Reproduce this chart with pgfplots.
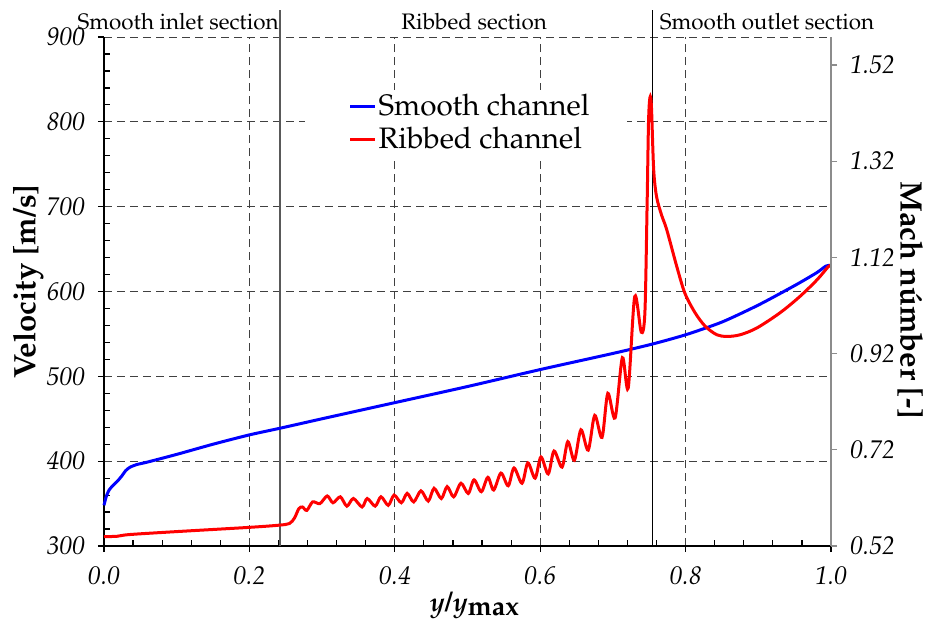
\documentclass[border=0pt]{standalone}
\usepackage[T1]{fontenc}
\usepackage{mathpazo}
\usepackage{pgfplots}
\pgfplotsset{compat=1.18}

\definecolor{gridgray}{gray}{0.25}
\definecolor{axisgray}{gray}{0.55}

\newcommand{\tickfont}{\fontsize{12.8}{13}\selectfont\itshape}

\begin{document}
\begin{tikzpicture}
\begin{axis}[
  scale only axis, width=363.5pt, height=254.5pt,
  xmin=0, xmax=1, ymin=300, ymax=900,
  axis x line*=bottom, axis y line*=left,
  axis line style={-, line width=1.2pt, black},
  clip=false,
  xtick={0,0.2,...,1.0}, ytick={300,400,...,900},
  minor x tick num=4, minor y tick num=4,
  tick align=outside,
  major tick length=3pt, minor tick length=-2.8pt,
  tick style={black, line width=0.6pt},
  grid=major,
  major grid style={dashed, gridgray, line width=0.5pt, dash pattern=on 4pt off 2.5pt},
  /pgf/number format/assume math mode=true,
  xticklabel={\pgfmathprintnumber[fixed,fixed zerofill,precision=1]{\tick}},
  yticklabel={\pgfmathprintnumber{\tick}},
  tick label style={font=\tickfont},
  xticklabel style={yshift=-4pt},
  yticklabel style={xshift=-3pt},
  xlabel={\textbf{\textit{y}/\textit{y}}$_{\textbf{max}}$},
  xlabel style={font=\fontsize{13.5}{14}\selectfont, at={(axis description cs:0.51,-0.116)}, anchor=center},
  ylabel={\textbf{Velocity [m/s]}},
  ylabel style={font=\fontsize{15.5}{16}\selectfont, at={(axis description cs:-0.1045,0.519)}, anchor=center},
  legend style={at={(axis cs:0.336,838)}, anchor=north west, draw=none, fill=none,
    inner sep=0pt, font=\fontsize{14.8}{17}\selectfont, row sep=0.5pt,
    nodes={inner xsep=1pt}},
  legend cell align=left,
  legend image code/.code={\draw[#1, line width=1.5pt] (0pt,0pt) -- (12.5pt,0pt);},
]
\coordinate (O) at (rel axis cs:0,0);

% blank strip behind the legend
\fill[white] (axis cs:0.2765,757) rectangle (axis cs:0.719,838);

% section boundaries
\draw[gray!70!black, line width=0.6pt] (axis cs:0.242,300) -- ([yshift=13.5pt]axis cs:0.242,900);
\draw[black, line width=0.6pt] (axis cs:0.754,300) -- ([yshift=13.5pt]axis cs:0.754,900);
\node[font=\fontsize{11.2}{11}\selectfont] at ([yshift=7.5pt]axis cs:0.102,900) {Smooth inlet section};
\node[font=\fontsize{11.2}{11}\selectfont] at ([yshift=7.5pt]axis cs:0.509,900) {Ribbed section};
\node[font=\fontsize{11.2}{11}\selectfont] at ([yshift=7.5pt]axis cs:0.912,900) {Smooth outlet section};

\addplot[blue, line width=1.5pt, smooth, tension=0.4] coordinates {
(0,348) (0.003,358) (0.007,366) (0.012,371) (0.018,376) (0.024,382)
(0.030,389) (0.036,393) (0.045,396) (0.06,399) (0.1,408) (0.15,420)
(0.2,431) (0.243,439) (0.3,450) (0.4,469) (0.5,488) (0.6,508)
(0.7,527) (0.754,538) (0.8,549) (0.85,564) (0.9,584) (0.95,607)
(0.98,622) (0.993,630) (1.0,631)
};
\addlegendentry{Smooth channel}

\addplot[red, line width=1.5pt, smooth, tension=0.5] coordinates {
(0,311) (0.018,311.5) (0.035,313.5) (0.1,317) (0.2,322) (0.24,324.5)
(0.255,326.5) (0.262,333) (0.268,344) (0.273,346) (0.279,342)
(0.287,352) (0.297,350) (0.307,359) (0.315,351) (0.325,358)
(0.334,347) (0.343,356) (0.355,346) (0.362,356) (0.373,347)
(0.381,358) (0.391,348) (0.399,360) (0.409,351) (0.417,362)
(0.426,352) (0.436,365) (0.446,353) (0.454,368) (0.464,356)
(0.472,370) (0.481,358) (0.491,374) (0.501,362) (0.509,378)
(0.519,364) (0.528,381) (0.536,366) (0.546,386) (0.556,371)
(0.564,392) (0.575,374) (0.583,398) (0.593,380) (0.601,405)
(0.611,385) (0.619,412) (0.630,393) (0.638,423) (0.647,401)
(0.656,437) (0.666,413) (0.675,454) (0.685,428) (0.693,480)
(0.703,451) (0.713,522) (0.721,486) (0.730,594) (0.739,552)
(0.744,575) (0.747,700) (0.749,800) (0.751,829) (0.753,818)
(0.756,745) (0.760,712) (0.767,690) (0.774,673) (0.788,629)
(0.799,598) (0.813,575) (0.827,559) (0.843,549) (0.857,547)
(0.875,549) (0.898,557) (0.930,575) (0.957,594) (0.981,614)
(0.996,629) (1.0,631)
};
\addlegendentry{Ribbed channel}
\end{axis}

\begin{axis}[
  scale only axis, width=363.5pt, height=254.5pt,
  xmin=0, xmax=1, ymin=0.52, ymax=1.578,
  axis x line=none, axis y line*=right,
  y axis line style={-, axisgray, line width=0.9pt},
  ytick={0.52,0.72,0.92,1.12,1.32,1.52},
  tick align=outside, major tick length=3pt,
  ytick style={axisgray, line width=0.6pt},
  /pgf/number format/assume math mode=true,
  yticklabel={\pgfmathprintnumber[fixed,fixed zerofill,precision=2]{\tick}},
  yticklabel style={font=\tickfont, xshift=3pt},
  ylabel={\textbf{Mach n\'umber [-]}},
  ylabel style={font=\fontsize{15.5}{16}\selectfont, at={(axis description cs:1.1087,0.483)}, anchor=center, rotate=180},
]
\end{axis}

\pgfresetboundingbox
\path[use as bounding box] ([shift={(-52pt,-38.5pt)}]O) rectangle ++(465pt,311.5pt);
\end{tikzpicture}
\end{document}
